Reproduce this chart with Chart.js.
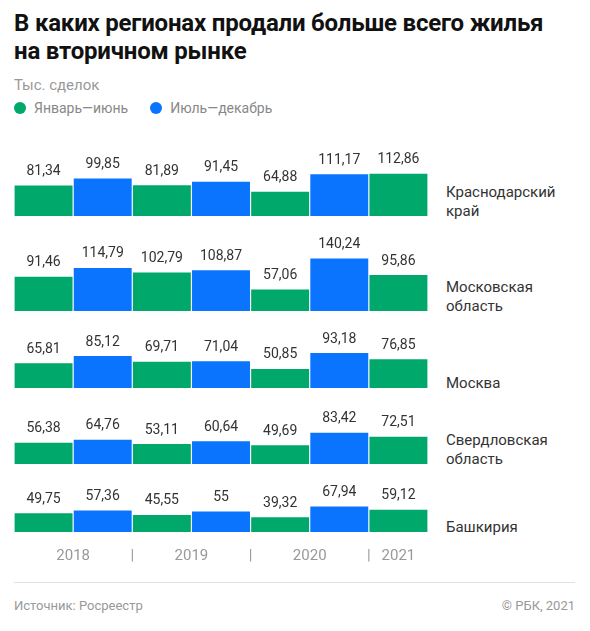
<!DOCTYPE html>
<html><head><meta charset="utf-8">
<script src="https://cdn.jsdelivr.net/npm/chart.js@4/dist/chart.umd.min.js"></script>
<style>
body{margin:0;background:#fff;font-family:Roboto,"Noto Sans",sans-serif;width:590px;height:631px;position:relative;overflow:hidden}
.t{position:absolute;left:14px;top:9px;font-size:24px;font-weight:700;line-height:28px;color:#111;letter-spacing:-0.2px}
.abs{position:absolute}
.reg{position:absolute;left:446px;font-size:15px;line-height:19px;color:#333}
.sep{position:absolute;left:14px;width:561px;height:1px;background:#e2e2e2}
</style></head><body>
<div class="t">В каких регионах продали больше всего жилья<br>на вторичном рынке</div>
<div class="abs" style="left:14px;top:76px;font-size:15px;color:#999">Тыс. сделок</div>
<div class="abs" style="left:14px;top:100px;font-size:14px;color:#888;display:flex;align-items:center">
<span style="width:12px;height:12px;border-radius:6px;background:#00a86b;display:inline-block;margin-right:8px"></span>Январь—июнь
<span style="width:12px;height:12px;border-radius:6px;background:#0a74ff;display:inline-block;margin:0 8px 0 22px"></span>Июль—декабрь</div>
<div id="rows"></div>
<div class="sep" style="top:582px"></div>
<div class="abs" style="left:14px;top:598px;font-size:13px;color:#999">Источник: Росреестр</div>
<div class="abs" style="right:15px;top:598px;font-size:13px;color:#999">© РБК, 2021</div>
<script>
const periods=["I 2018","II 2018","I 2019","II 2019","I 2020","II 2020","I 2021"];
const years=["2018","2019","2020","2021"];
const regions=["Краснодарский\nкрай","Московская\nобласть","Москва","Свердловская\nобласть","Башкирия"];
const krasnodar=[81.34,99.85,81.89,91.45,64.88,111.17,112.86];
const moscowObl=[91.46,114.79,102.79,108.87,57.06,140.24,95.86];
const moscow=[65.81,85.12,69.71,71.04,50.85,93.18,76.85];
const sverdl=[56.38,64.76,53.11,60.64,49.69,83.42,72.51];
const bashk=[49.75,57.36,45.55,55,39.32,67.94,59.12];
const series=[krasnodar,moscowObl,moscow,sverdl,bashk];
const G="#00a86b",B="#0a74ff",S=0.375;
const tops=[152,232,330,406,482],bots=[216,311,388,464,532];
const rows=document.getElementById('rows');
const lblPlugin={id:'lbl',afterDatasetsDraw(c){const ctx=c.ctx;const m=c.getDatasetMeta(0);ctx.save();ctx.font='14px Roboto';ctx.fillStyle='#333';ctx.textAlign='center';ctx.textBaseline='bottom';
m.data.forEach((el,i)=>{ctx.fillText(String(c.data.datasets[0].data[i]).replace('.',','),el.x,el.y-7);});ctx.restore();}};
const yearPlugin={id:'yr',afterDraw(c){const ctx=c.ctx,x=c.scales.x;ctx.save();ctx.font='15px Roboto';ctx.fillStyle='#999';ctx.textAlign='center';ctx.textBaseline='middle';
const yy=c.chartArea.bottom+24;
years.forEach((y,k)=>{const a=x.getPixelForValue(2*k),b=k<3?x.getPixelForValue(2*k+1):a;ctx.fillText(y,(a+b)/2,yy);
if(k<3){const s=(x.getPixelForValue(2*k+1)+x.getPixelForValue(2*k+2))/2;ctx.fillText('|',s,yy);}});ctx.restore();}};
series.forEach((d,r)=>{
 const h=bots[r]-tops[r];const last=r===4;
 const w=document.createElement('div');w.className='abs';w.style.left='14px';w.style.top=tops[r]+'px';w.style.width='414px';w.style.height=(h+(last?45:0))+'px';
 const cv=document.createElement('canvas');w.appendChild(cv);rows.appendChild(w);
 const reg=document.createElement('div');reg.className='reg';reg.innerHTML=regions[r].replace('\n','<br>');
 const lines=regions[r].split('\n').length;reg.style.top=(bots[r]-lines*19+5)+'px';rows.appendChild(reg);
 new Chart(cv,{type:'bar',data:{labels:periods,datasets:[{data:d,backgroundColor:d.map((v,i)=>i%2?B:G),borderWidth:0,barPercentage:0.98,categoryPercentage:1}]},
 options:{responsive:true,maintainAspectRatio:false,animation:false,layout:{padding:{bottom:last?45:0}},
 plugins:{legend:{display:false},tooltip:{enabled:false}},
 scales:{x:{display:false},y:{display:false,min:0,max:h/S}}},plugins:last?[lblPlugin,yearPlugin]:[lblPlugin]});
});
</script></body></html>
